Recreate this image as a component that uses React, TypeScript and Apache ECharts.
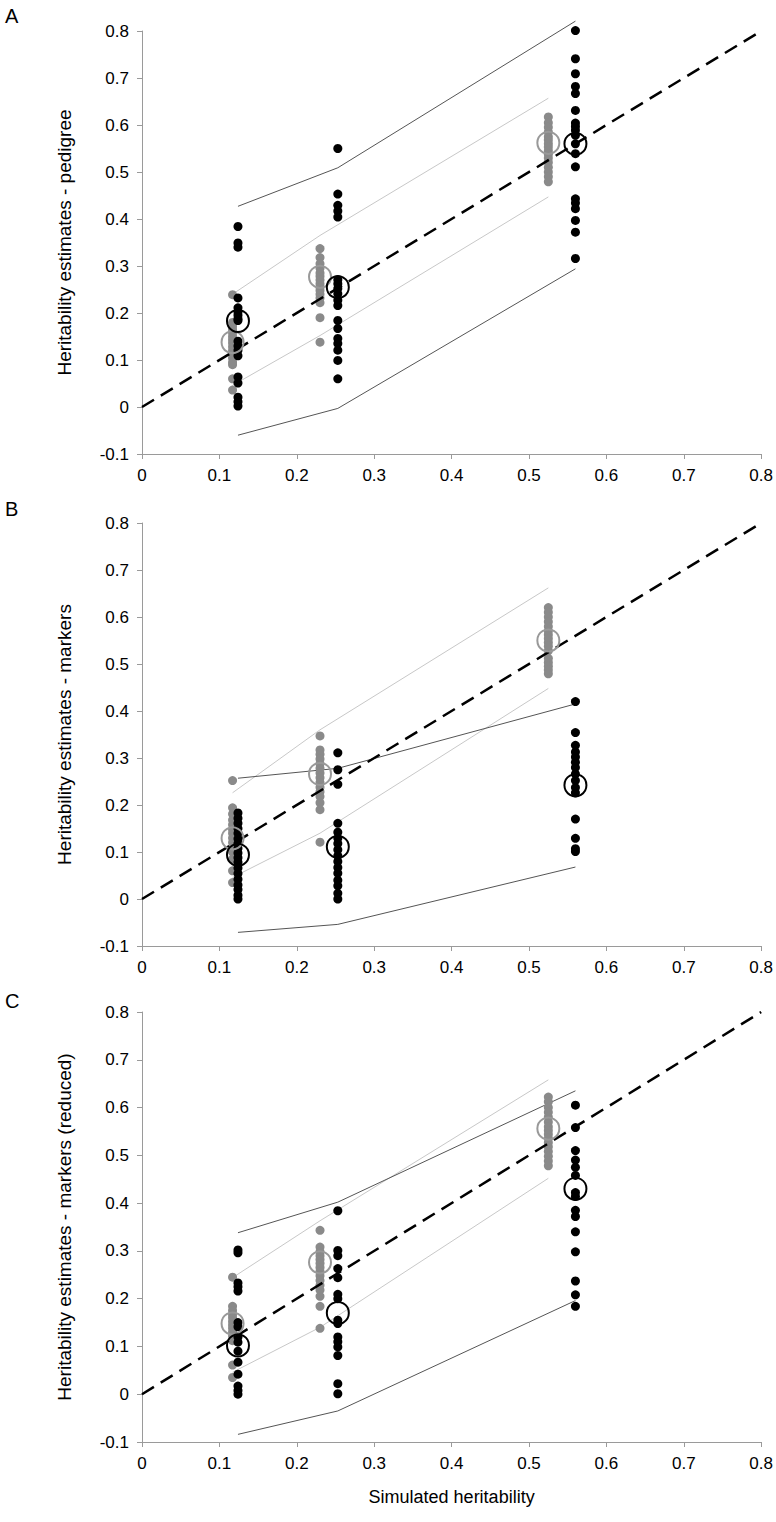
import React, { useEffect, useRef } from "react";
import * as echarts from "echarts";

// x positions of the three simulated-heritability groups
const grayX = [0.117, 0.230, 0.525];
const blackX = [0.124, 0.253, 0.560];

// Panel A - pedigree
const grayA_1 = [0.239, 0.180, 0.172, 0.165, 0.158, 0.150, 0.143, 0.136, 0.128, 0.120, 0.112, 0.104, 0.095, 0.090, 0.060, 0.036];
const grayA_2 = [0.337, 0.318, 0.305, 0.295, 0.285, 0.278, 0.270, 0.262, 0.255, 0.248, 0.240, 0.232, 0.222, 0.190, 0.138];
const grayA_3 = [0.617, 0.605, 0.595, 0.585, 0.575, 0.568, 0.560, 0.553, 0.545, 0.538, 0.530, 0.520, 0.510, 0.500, 0.490, 0.479];
const blackA_1 = [0.384, 0.349, 0.340, 0.232, 0.211, 0.202, 0.195, 0.188, 0.184, 0.140, 0.130, 0.121, 0.109, 0.064, 0.051, 0.021, 0.011, 0.002];
const blackA_2 = [0.550, 0.453, 0.429, 0.417, 0.404, 0.271, 0.262, 0.252, 0.241, 0.227, 0.216, 0.184, 0.167, 0.146, 0.135, 0.121, 0.099, 0.060];
const blackA_3 = [0.801, 0.741, 0.709, 0.682, 0.667, 0.631, 0.604, 0.597, 0.589, 0.578, 0.560, 0.539, 0.511, 0.443, 0.434, 0.422, 0.397, 0.372, 0.316];
const grayMeanA = [0.138, 0.277, 0.562];
const blackMeanA = [0.183, 0.255, 0.560];
const grayUpperA = [0.240, 0.365, 0.657];
const grayLowerA = [0.046, 0.152, 0.447];
const blackUpperA = [0.427, 0.509, 0.821];
const blackLowerA = [-0.060, -0.003, 0.294];

// Panel B - markers
const grayB_1 = [0.252, 0.194, 0.181, 0.168, 0.158, 0.148, 0.140, 0.130, 0.120, 0.110, 0.100, 0.085, 0.060, 0.035];
const grayB_2 = [0.347, 0.317, 0.308, 0.298, 0.288, 0.278, 0.268, 0.258, 0.248, 0.238, 0.228, 0.218, 0.205, 0.190, 0.121];
const grayB_3 = [0.620, 0.610, 0.600, 0.590, 0.580, 0.570, 0.562, 0.554, 0.546, 0.538, 0.528, 0.512, 0.503, 0.495, 0.487, 0.479];
const blackB_1 = [0.183, 0.172, 0.161, 0.150, 0.140, 0.128, 0.118, 0.108, 0.098, 0.088, 0.078, 0.066, 0.054, 0.042, 0.030, 0.020, 0.008, 0.0];
const blackB_2 = [0.311, 0.275, 0.244, 0.161, 0.142, 0.129, 0.118, 0.105, 0.092, 0.080, 0.067, 0.055, 0.040, 0.028, 0.012, 0.0];
const blackB_3 = [0.420, 0.354, 0.327, 0.313, 0.302, 0.291, 0.280, 0.266, 0.252, 0.237, 0.226, 0.170, 0.129, 0.107, 0.101];
const grayMeanB = [0.129, 0.266, 0.550];
const blackMeanB = [0.094, 0.111, 0.242];
const grayUpperB = [0.226, 0.360, 0.662];
const grayLowerB = [0.046, 0.140, 0.448];
const blackUpperB = [0.257, 0.278, 0.415];
const blackLowerB = [-0.071, -0.054, 0.068];

// Panel C - markers (reduced)
const grayC_1 = [0.245, 0.184, 0.175, 0.167, 0.160, 0.152, 0.145, 0.138, 0.130, 0.122, 0.112, 0.061, 0.035];
const grayC_2 = [0.343, 0.308, 0.298, 0.290, 0.282, 0.274, 0.265, 0.257, 0.248, 0.238, 0.228, 0.218, 0.205, 0.184, 0.138];
const grayC_3 = [0.622, 0.612, 0.600, 0.590, 0.580, 0.570, 0.560, 0.552, 0.544, 0.536, 0.527, 0.518, 0.508, 0.498, 0.488, 0.478];
const blackC_1 = [0.302, 0.296, 0.233, 0.225, 0.216, 0.150, 0.141, 0.120, 0.109, 0.090, 0.067, 0.042, 0.017, 0.008, 0.0];
const blackC_2 = [0.384, 0.301, 0.290, 0.263, 0.244, 0.209, 0.200, 0.155, 0.148, 0.120, 0.110, 0.099, 0.081, 0.022, 0.001];
const blackC_3 = [0.605, 0.558, 0.510, 0.490, 0.475, 0.458, 0.422, 0.414, 0.385, 0.372, 0.340, 0.298, 0.237, 0.208, 0.184];
const grayMeanC = [0.148, 0.276, 0.556];
const blackMeanC = [0.102, 0.170, 0.430];
const grayUpperC = [0.244, 0.363, 0.658];
const grayLowerC = [0.046, 0.140, 0.452];
const blackUpperC = [0.338, 0.402, 0.635];
const blackLowerC = [-0.084, -0.035, 0.196];

const panelLetters = ["A", "B", "C"];
const yNames = [
  "Heritability estimates - pedigree",
  "Heritability estimates - markers",
  "Heritability estimates - markers (reduced)",
];
const xName = "Simulated heritability";

const FONT = "'Liberation Sans', Arial, sans-serif";

const panels = [
  {
    gray: [grayA_1, grayA_2, grayA_3], black: [blackA_1, blackA_2, blackA_3],
    grayMean: grayMeanA, blackMean: blackMeanA,
    grayUpper: grayUpperA, grayLower: grayLowerA, blackUpper: blackUpperA, blackLower: blackLowerA,
  },
  {
    gray: [grayB_1, grayB_2, grayB_3], black: [blackB_1, blackB_2, blackB_3],
    grayMean: grayMeanB, blackMean: blackMeanB,
    grayUpper: grayUpperB, grayLower: grayLowerB, blackUpper: blackUpperB, blackLower: blackLowerB,
  },
  {
    gray: [grayC_1, grayC_2, grayC_3], black: [blackC_1, blackC_2, blackC_3],
    grayMean: grayMeanC, blackMean: blackMeanC,
    grayUpper: grayUpperC, grayLower: grayLowerC, blackUpper: blackUpperC, blackLower: blackLowerC,
  },
];

const gridTops = [31, 523, 1012];
const gridHeights = [423, 423, 430];

function pts(xs: number[], groups: number[][]) {
  const out: number[][] = [];
  groups.forEach((g, i) => g.forEach((v) => out.push([xs[i], v])));
  return out;
}
function pair(xs: number[], ys: number[]) {
  return ys.map((v, i) => [xs[i], v]);
}

export default function App() {
  const ref = useRef<HTMLDivElement>(null);
  useEffect(() => {
    if (!ref.current) return;
    const chart = echarts.init(ref.current, null, { renderer: "svg" });
    const fmt = (v: number) => String(Math.round(v * 10) / 10);
    const axisColor = "#9a9a9a";

    const grids = gridTops.map((t, i) => ({ left: 142, right: 13, top: t, height: gridHeights[i] }));
    const xAxes = gridTops.map((_, i) => ({
      type: "value",
      gridIndex: i,
      min: 0,
      max: 0.8,
      interval: 0.1,
      name: i === 2 ? xName : "",
      nameLocation: "middle",
      nameGap: 46,
      nameTextStyle: { fontSize: 18, color: "#000", fontFamily: FONT },
      axisLine: { show: true, onZero: false, lineStyle: { color: axisColor, width: 1 } },
      axisTick: { show: true, length: 5, lineStyle: { color: axisColor } },
      axisLabel: { fontSize: 17, color: "#000", fontFamily: FONT, margin: 13, formatter: fmt },
      splitLine: { show: false },
    }));
    const yAxes = gridTops.map((_, i) => ({
      type: "value",
      gridIndex: i,
      min: -0.1,
      max: 0.8,
      interval: 0.1,
      name: yNames[i],
      nameLocation: "middle",
      nameGap: 68,
      nameTextStyle: { fontSize: 19, color: "#000", fontFamily: FONT },
      axisLine: { show: true, onZero: false, lineStyle: { color: axisColor, width: 1 } },
      axisTick: { show: true, length: 5, lineStyle: { color: axisColor } },
      axisLabel: { fontSize: 17, color: "#000", fontFamily: FONT, margin: 13, formatter: fmt },
      splitLine: { show: false },
    }));

    const series: any[] = [];
    panels.forEach((p, i) => {
      const common = { xAxisIndex: i, yAxisIndex: i, silent: true, clip: false };
      const line = (data: number[][], color: string, width: number) => ({
        ...common,
        type: "line",
        data,
        symbol: "none",
        lineStyle: { color, width, opacity: 1 },
        z: 2,
      });
      series.push(line(pair(grayX, p.grayUpper), "#c8c8c8", 1));
      series.push(line(pair(grayX, p.grayLower), "#c8c8c8", 1));
      series.push(line(pair(blackX, p.blackUpper), "#555555", 1));
      series.push(line(pair(blackX, p.blackLower), "#555555", 1));
      series.push({
        ...common,
        type: "scatter",
        data: pts(grayX, p.gray),
        symbol: "circle",
        symbolSize: 9,
        itemStyle: { color: "#8a8a8a", opacity: 1 },
        z: 3,
      });
      series.push({
        ...common,
        type: "scatter",
        data: pts(blackX, p.black),
        symbol: "circle",
        symbolSize: 9,
        itemStyle: { color: "#000000", opacity: 1 },
        z: 3,
      });
      series.push({
        ...common,
        type: "line",
        data: [[0, 0], [0.8, 0.8]],
        symbol: "none",
        lineStyle: { color: "#000", width: 2.5, type: [14, 8], opacity: 1 },
        z: 4,
      });
      series.push({
        ...common,
        type: "scatter",
        data: pair(grayX, p.grayMean),
        symbol: "circle",
        symbolSize: 22,
        itemStyle: { color: "rgba(0,0,0,0)", borderColor: "#999999", borderWidth: 2, opacity: 1 },
        z: 5,
      });
      series.push({
        ...common,
        type: "scatter",
        data: pair(blackX, p.blackMean),
        symbol: "circle",
        symbolSize: 22,
        itemStyle: { color: "rgba(0,0,0,0)", borderColor: "#000000", borderWidth: 2, opacity: 1 },
        z: 5,
      });
    });

    const letterTops = [6, 499, 991];
    const graphic = panelLetters.map((t, i) => ({
      type: "text",
      left: 5,
      top: letterTops[i],
      style: { text: t, fontSize: 20, fill: "#000", fontFamily: FONT },
    }));

    chart.setOption({
      animation: false,
      backgroundColor: "#ffffff",
      grid: grids,
      xAxis: xAxes,
      yAxis: yAxes,
      series,
      graphic,
    });
    return () => chart.dispose();
  }, []);
  return (
    <div
      ref={ref}
      style={{ position: "absolute", left: 0, top: 0, width: 776, height: 1522 }}
    />
  );
}
